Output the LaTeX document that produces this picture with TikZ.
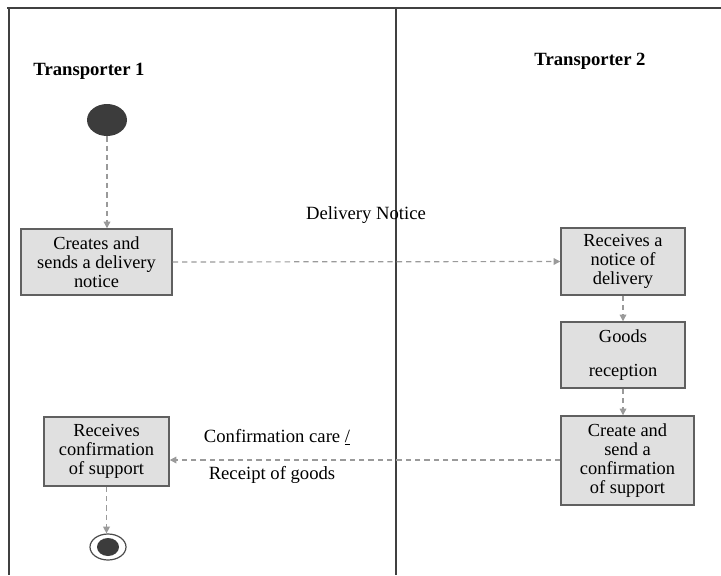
\documentclass[tikz,border=0pt]{standalone}
\usepackage{fontspec}
\setmainfont{Liberation Serif}
\usetikzlibrary{arrows.meta,shapes.geometric}
\definecolor{boxfill}{HTML}{E0E0E0}
\definecolor{boxline}{HTML}{606060}
\definecolor{arrowc}{HTML}{9A9A9A}
\definecolor{dot}{HTML}{3C3C3C}
\tikzset{
  actbox/.style={draw=boxline, line width=1.1pt, fill=boxfill, align=center, inner sep=0pt,
    font=\fontsize{13.8}{14.3}\selectfont},
  flow/.style={draw=arrowc, dashed, dash pattern=on 4pt off 3pt, line width=0.9pt,
    -{Triangle[width=5pt,length=5pt]}},
  lane/.style={draw=black!75, line width=0.9pt},
  lanetitle/.style={font=\fontsize{14}{16}\selectfont\bfseries},
  lbl/.style={font=\fontsize{14}{16}\selectfont}
}
\begin{document}
\begin{tikzpicture}[x=0.75pt,y=-0.75pt]
\useasboundingbox (0,0) rectangle (721,575);
% swimlanes
\draw[lane] (7,8) -- (721,8);
\draw[lane] (9,8) -- (9,575);
\draw[lane] (396,8) -- (396,575);
\node[lanetitle] (t1) at (89,71) {Transporter 1};
\node[lanetitle] (t2) at (590,61) {Transporter 2};
% start
\node[ellipse, fill=dot, minimum width=40*0.75pt, minimum height=32*0.75pt, inner sep=0pt] (start) at (107,120) {};
% boxes
\node[actbox, minimum width=151*0.75pt, minimum height=66*0.75pt] (b1) at (96.5,262) {Creates and\\sends a delivery\\notice};
\node[actbox, minimum width=124*0.75pt, minimum height=67*0.75pt] (b2) at (623,261.5) {Receives a\\notice of\\delivery};
\node[actbox, minimum width=124*0.75pt, minimum height=66*0.75pt] (b3) at (623,355) {Goods\\[11pt]reception};
\node[actbox, minimum width=133*0.75pt, minimum height=89*0.75pt] (b4) at (627.5,460.5) {Create and\\send a\\confirmation\\of support};
\node[actbox, minimum width=125*0.75pt, minimum height=69*0.75pt] (b5) at (106.5,451.5) {Receives\\confirmation\\of support};
% end
\node[ellipse, draw=black!70, line width=0.9pt, minimum width=36*0.75pt, minimum height=26*0.75pt, inner sep=0pt] (end) at (108,547) {};
\node[ellipse, fill=dot, minimum width=22*0.75pt, minimum height=18*0.75pt, inner sep=0pt] (endin) at (108,547) {};
% flows
\draw[flow] (start) -- (b1.north -| start);
\draw[flow] (b1.east) -- (b2.west);
\draw[flow] (b2.south) -- (b3.north);
\draw[flow] (b3.south) -- (b3.south |- b4.north);
\draw[flow] (b4.west |- 0,460) -- (b5.east |- 0,460);
\draw[flow] (b5.south) -- (end.north -| b5.south);
% labels
\node[lbl] (l1) at (366,215) {Delivery Notice};
\node[lbl] (l2) at (277,437) {Confirmation care \underline{/}};
\node[lbl] (l3) at (272,475) {Receipt of goods};
\end{tikzpicture}
\end{document}
